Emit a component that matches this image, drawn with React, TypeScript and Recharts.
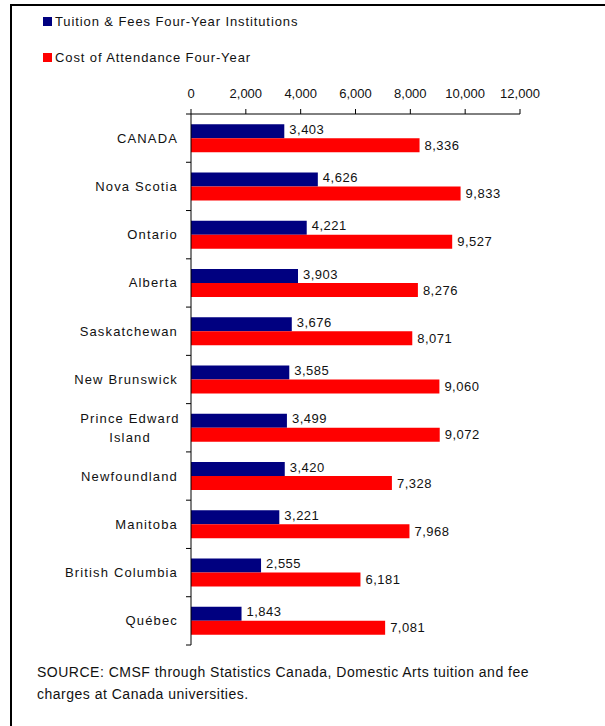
import { BarChart, Bar, XAxis, YAxis, LabelList } from 'recharts';

const provinces = [
  'CANADA',
  'Nova Scotia',
  'Ontario',
  'Alberta',
  'Saskatchewan',
  'New Brunswick',
  'Prince Edward Island',
  'Newfoundland',
  'Manitoba',
  'British Columbia',
  'Québec',
];
const tuitionFees = [3403, 4626, 4221, 3903, 3676, 3585, 3499, 3420, 3221, 2555, 1843];
const costOfAttendance = [8336, 9833, 9527, 8276, 8071, 9060, 9072, 7328, 7968, 6181, 7081];
const xTicks = [0, 2000, 4000, 6000, 8000, 10000, 12000];

const NAVY = '#000080';
const RED = '#ff0000';
const FONT = '"Liberation Sans", Arial, sans-serif';

const data = provinces.map((name, i) => ({
  name,
  tuition: tuitionFees[i],
  cost: costOfAttendance[i],
}));

const PLOT_TOP = 114;
const PLOT_BOTTOM = 645;
const BAND = (PLOT_BOTTOM - PLOT_TOP) / provinces.length;

const fmt = (v: number) => v.toLocaleString('en-US');

function ProvinceTick(props: any) {
  const { x, y, payload, index } = props;
  const label: string = payload.value;
  const axisX = x + 8;
  const lines = label === 'Prince Edward Island' ? ['Prince Edward', 'Island'] : [label];
  return (
    <g>
      <line x1={axisX - 5} x2={axisX} y1={y - BAND / 2} y2={y - BAND / 2} stroke="#000" />
      {index === provinces.length - 1 && (
        <line x1={axisX - 5} x2={axisX} y1={y + BAND / 2} y2={y + BAND / 2} stroke="#000" />
      )}
      {lines.length === 1 ? (
        <text x={axisX - 13} y={y} dy={4.5} textAnchor="end" fontSize={13} fill="#111" letterSpacing={1.15}>
          {label}
        </text>
      ) : (
        <text x={axisX - 61} y={y} textAnchor="middle" fontSize={13} fill="#111" letterSpacing={1.15}>
          <tspan x={axisX - 61} dy={-5}>{lines[0]}</tspan>
          <tspan x={axisX - 61} dy={19}>{lines[1]}</tspan>
        </text>
      )}
    </g>
  );
}

export default function App() {
  return (
    <div
      style={{
        position: 'absolute',
        left: 0,
        top: 0,
        width: 605,
        height: 726,
        background: '#fff',
        fontFamily: FONT,
        overflow: 'hidden',
      }}
    >
      {/* frame */}
      <div style={{ position: 'absolute', left: 10, top: 4, width: 595, height: 2, background: '#000' }} />
      <div style={{ position: 'absolute', left: 10, top: 4, width: 2, height: 722, background: '#000' }} />

      {/* legend */}
      <div style={{ position: 'absolute', left: 43, top: 12, fontSize: 13, color: '#111', letterSpacing: 0.9 }}>
        <div style={{ display: 'flex', alignItems: 'center', height: 18 }}>
          <span style={{ width: 9, height: 9, background: NAVY, marginRight: 3, display: 'inline-block' }} />
          Tuition &amp; Fees Four-Year Institutions
        </div>
        <div style={{ display: 'flex', alignItems: 'center', height: 18, marginTop: 18 }}>
          <span style={{ width: 9, height: 9, background: RED, marginRight: 3, display: 'inline-block' }} />
          Cost of Attendance Four-Year
        </div>
      </div>

      <div style={{ position: 'absolute', left: 0, top: 0 }}>
        <BarChart
          width={605}
          height={726}
          data={data}
          layout="vertical"
          margin={{ top: 84, right: 85, bottom: 81, left: 0 }}
          barCategoryGap="21%"
          barGap={0}
        >
          <XAxis
            type="number"
            orientation="top"
            domain={[0, 12000]}
            ticks={xTicks}
            tickFormatter={fmt}
            height={30}
            tickSize={5}
            tickMargin={11}
            stroke="#000"
            tick={{ fontSize: 13, fill: '#111', fontFamily: FONT }}
            interval={0}
          />
          <YAxis
            type="category"
            dataKey="name"
            width={191}
            stroke="#000"
            tickLine={false}
            tickSize={0}
            tickMargin={8}
            tick={<ProvinceTick />}
            interval={0}
          />
          <Bar dataKey="tuition" fill={NAVY} isAnimationActive={false}>
            <LabelList
              dataKey="tuition"
              position="right"
              offset={5}
              formatter={(v: any) => fmt(Number(v))}
              style={{ fontSize: 13, fill: '#111', fontFamily: FONT, letterSpacing: 0.5 }}
              dy={-2}
            />
          </Bar>
          <Bar dataKey="cost" fill={RED} isAnimationActive={false}>
            <LabelList
              dataKey="cost"
              position="right"
              offset={5}
              formatter={(v: any) => fmt(Number(v))}
              style={{ fontSize: 13, fill: '#111', fontFamily: FONT, letterSpacing: 0.5 }}
            />
          </Bar>
        </BarChart>
      </div>

      {/* source */}
      <div
        style={{
          position: 'absolute',
          left: 37,
          top: 661,
          fontSize: 14,
          lineHeight: '22px',
          color: '#111',
          letterSpacing: 0.5,
        }}
      >
        SOURCE: CMSF through Statistics Canada, Domestic Arts tuition and fee
        <br />
        charges at Canada universities.
      </div>
    </div>
  );
}
